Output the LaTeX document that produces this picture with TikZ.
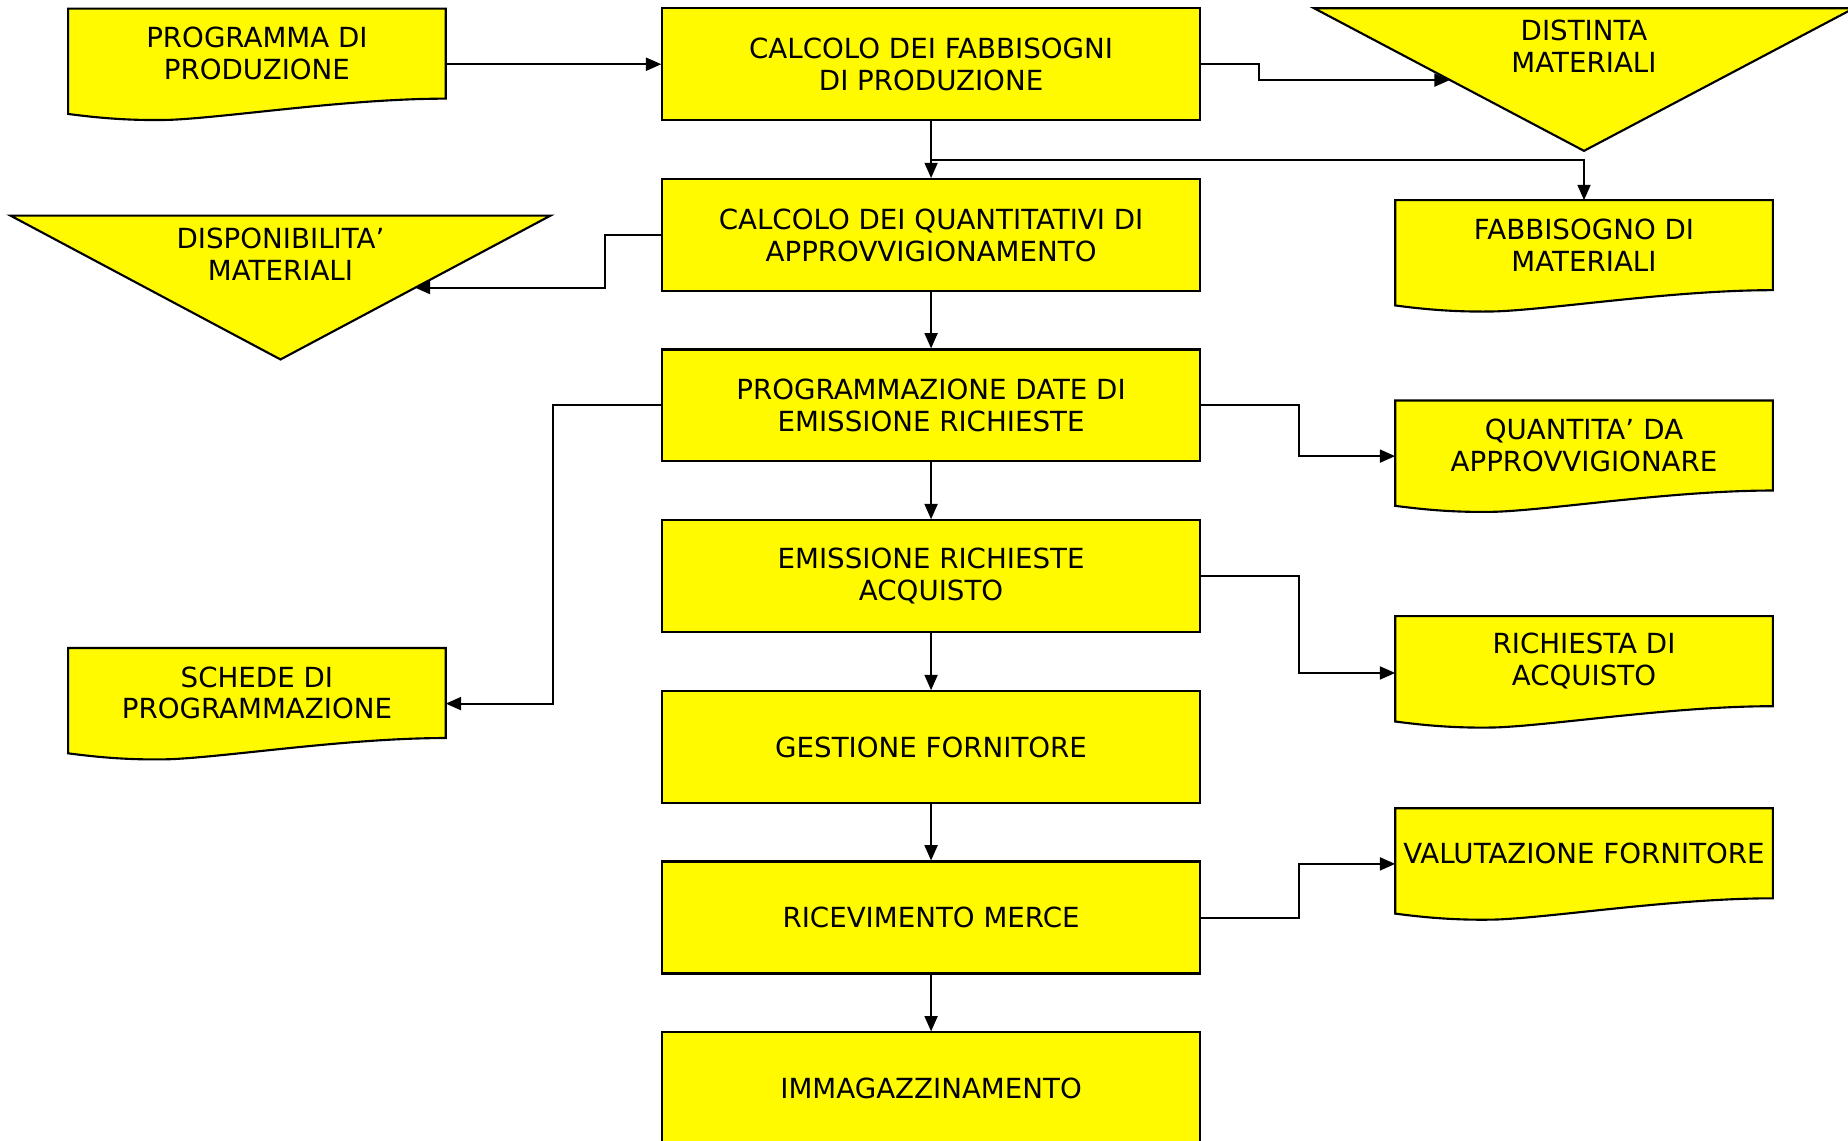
\documentclass[tikz,border=0pt]{standalone}
\usepackage{fontspec}
\setmainfont{DejaVu Sans}
\usetikzlibrary{arrows.meta,calc,backgrounds}
\definecolor{fillyellow}{RGB}{255,250,0}
\newcommand{\docpath}[1]{\path[docshape] (#1.north west) -- (#1.north east) -- (#1.south east) .. controls +(-84,0) and +(50,-2) .. ($(#1.south west)+(86,18)$) .. controls +(-40,1) and +(16,2) .. ($(#1.south west)+(0,13)$) -- cycle;}
\begin{document}
\begin{tikzpicture}[x=1pt,y=-1pt,
  every node/.style={font=\fontsize{23.5}{27}\selectfont, align=center, inner sep=0pt},
  proc/.style={draw, fill=fillyellow, line width=1.8pt, minimum width=456pt, minimum height=95pt},
  doc/.style={minimum width=320pt, minimum height=76pt},
  docshape/.style={draw, fill=fillyellow, line width=1.8pt},
  tri/.style={draw, fill=fillyellow, line width=1.8pt},
  conn/.style={-{Triangle[length=13pt,width=11pt]}, line width=1.7pt}]
\path[use as bounding box] (0,0) rectangle (1568,968);
\clip (0,0) rectangle (1568,968);

% triangles
\path[tri] (1115,7) -- (1573,7) -- (1344,128) -- cycle;
\path[tri] (9,183) -- (467,183) -- (238,305) -- cycle;
\node (dist) at (1344,39.5) {DISTINTA\\MATERIALI};
\node (disp) at (238,215.5) {DISPONIBILITA’\\MATERIALI};
\coordinate (distIn) at (1230,68);
\coordinate (dispIn) at (352,244);

% process boxes
\node[proc] (b1) at (790,54.5) {CALCOLO DEI FABBISOGNI\\DI PRODUZIONE};
\node[proc] (b2) at (790,199.5) {CALCOLO DEI QUANTITATIVI DI\\APPROVVIGIONAMENTO};
\node[proc] (b3) at (790,344) {PROGRAMMAZIONE DATE DI\\EMISSIONE RICHIESTE};
\node[proc] (b4) at (790,489) {EMISSIONE RICHIESTE\\ACQUISTO};
\node[proc] (b5) at (790,634) {GESTIONE FORNITORE};
\node[proc] (b6) at (790,778.5) {RICEVIMENTO MERCE};
\node[proc] (b7) at (790,923.5) {IMMAGAZZINAMENTO};

% documents
\node[doc] (dprog) at (218,45.5) {PROGRAMMA DI\\PRODUZIONE};
\node[doc] (dfab) at (1344,208) {FABBISOGNO DI\\MATERIALI};
\node[doc] (dquant) at (1344,378) {QUANTITA’\,\,DA\\APPROVVIGIONARE};
\node[doc] (drich) at (1344,561) {RICHIESTA DI\\ACQUISTO};
\node[doc] (dval) at (1344,724) {VALUTAZIONE FORNITORE};
\node[doc] (dsched) at (218,588) {SCHEDE DI\\PROGRAMMAZIONE};
\begin{scope}[on background layer]
\docpath{dprog}
\docpath{dfab}
\docpath{dquant}
\docpath{drich}
\docpath{dval}
\docpath{dsched}
\end{scope}

% connectors
\draw[conn] ($(dprog.east)+(0,9)$) -- (b1.west);
\draw[conn] (b1.east) -- ++(49,0) |- (distIn);
\draw[conn] (b1.south) -- (b2.north);
\draw[conn] ($(b1.south)+(0,33)$) -| (dfab.north);
\draw[conn] (b2.west) -- ++(-48,0) |- (dispIn);
\draw[conn] (b2.south) -- (b3.north);
\draw[conn] (b3.west) -- ++(-92,0) |- ($(dsched.east)+(0,9)$);
\draw[conn] (b3.east) -- ++(83,0) |- ($(dquant.west)+(0,9)$);
\draw[conn] (b3.south) -- (b4.north);
\draw[conn] (b4.east) -- ++(83,0) |- ($(drich.west)+(0,10)$);
\draw[conn] (b4.south) -- (b5.north);
\draw[conn] (b5.south) -- (b6.north);
\draw[conn] (b6.east) -- ++(83,0) |- ($(dval.west)+(0,9)$);
\draw[conn] (b6.south) -- (b7.north);
\end{tikzpicture}
\end{document}
